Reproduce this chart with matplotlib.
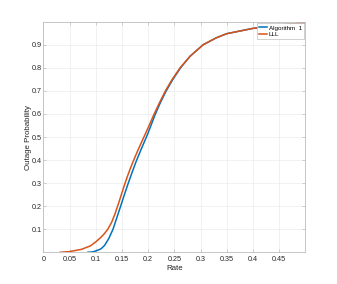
import numpy as np
import matplotlib
matplotlib.use("Agg")
import matplotlib.pyplot as plt

plt.rcParams["font.family"] = ["Liberation Sans", "DejaVu Sans"]

# LLL curve (orange)
lll_rate = [0.032, 0.05, 0.073, 0.09, 0.10, 0.11, 0.117, 0.123, 0.13, 0.137,
            0.145, 0.15, 0.155, 0.16, 0.165, 0.172, 0.180, 0.189, 0.195, 0.20,
            0.211, 0.222, 0.233, 0.246, 0.261, 0.280, 0.305, 0.33, 0.35, 0.40,
            0.45, 0.50]
lll_out = [0.000, 0.003, 0.013, 0.028, 0.045, 0.065, 0.082, 0.100, 0.128, 0.168,
           0.222, 0.258, 0.293, 0.326, 0.357, 0.397, 0.440, 0.485, 0.515, 0.540,
           0.597, 0.650, 0.700, 0.750, 0.800, 0.850, 0.900, 0.930, 0.948, 0.971,
           0.985, 0.996]

# Algorithm 1 curve (blue)
alg_rate = [0.085, 0.095, 0.105, 0.11, 0.117, 0.125, 0.133, 0.140, 0.148,
            0.155, 0.162, 0.170, 0.177, 0.186, 0.193, 0.199, 0.213, 0.223,
            0.234, 0.247, 0.262, 0.280, 0.305, 0.33, 0.35, 0.40, 0.45, 0.50]
alg_out = [0.000, 0.002, 0.010, 0.015, 0.030, 0.060, 0.100, 0.148, 0.203,
           0.252, 0.299, 0.350, 0.393, 0.443, 0.480, 0.512, 0.595, 0.647,
           0.698, 0.749, 0.800, 0.850, 0.900, 0.930, 0.948, 0.971, 0.985, 0.996]

x_ticks = [0, 0.05, 0.1, 0.15, 0.2, 0.25, 0.3, 0.35, 0.4, 0.45]
x_labels = ["0", "0.05", "0.1", "0.15", "0.2", "0.25", "0.3", "0.35", "0.4", "0.45"]
y_ticks = [0.1, 0.2, 0.3, 0.4, 0.5, 0.6, 0.7, 0.8, 0.9]

fig = plt.figure(figsize=(3.37, 2.84), dpi=100)
ax = fig.add_axes([0.1285, 0.1116, 0.7775, 0.812])

ax.plot(alg_rate, alg_out, color="#0072BD", lw=1.1, label="Algorithm  1")
ax.plot(lll_rate, lll_out, color="#D95319", lw=1.1, label="LLL")

ax.set_xlim(0, 0.5)
ax.set_ylim(0, 1)
ax.set_xticks(x_ticks)
ax.set_xticklabels(x_labels)
ax.set_yticks(y_ticks)
ax.grid(True, color="#ebebeb", lw=0.5)
ax.set_axisbelow(True)

for s in ax.spines.values():
    s.set_color("#bdbdbd")
    s.set_linewidth(0.6)
ax.tick_params(direction="in", length=2, width=0.5, color="#bdbdbd",
               labelsize=5.2, labelcolor="#262626", top=True, right=True)
ax.tick_params(axis="x", pad=2.5)
ax.tick_params(axis="y", pad=1.2)

ax.set_xlabel("Rate", fontsize=5.7, color="#262626", labelpad=1.5)
ax.set_ylabel("Outage Probability", fontsize=5.7, color="#262626")
ax.yaxis.set_label_coords(-0.043, 0.5)

leg = ax.legend(loc="upper right", fontsize=4.5, handlelength=1.3,
                handletextpad=0.3, borderpad=0.3, labelspacing=0.15,
                borderaxespad=0.25, fancybox=False, framealpha=1)
leg.get_frame().set_edgecolor("#bdbdbd")
leg.get_frame().set_linewidth(0.5)

fig.savefig("out.png", dpi=100)
